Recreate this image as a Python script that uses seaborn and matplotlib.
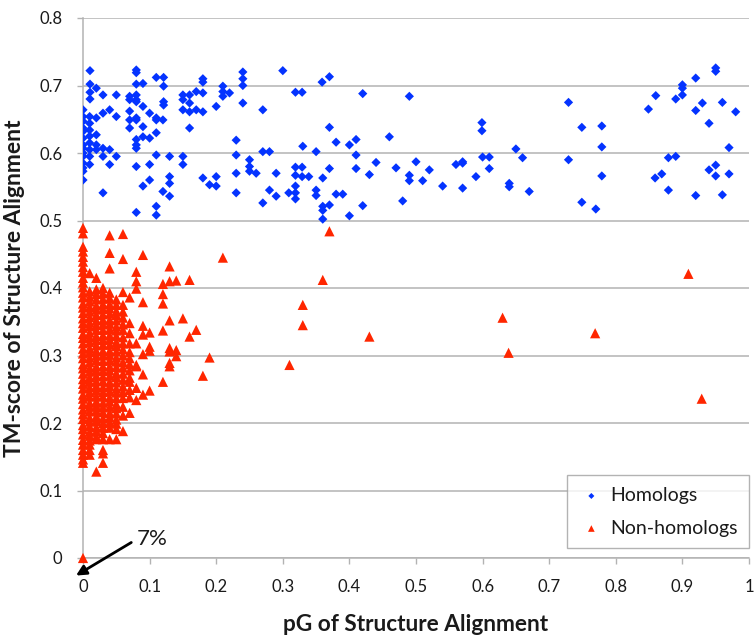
import matplotlib
matplotlib.use("Agg")
import matplotlib.pyplot as plt
import seaborn as sns
import pandas as pd
from matplotlib.ticker import FuncFormatter

# ---------------- data ----------------
homolog_pg = [
    0.0105, 0.080, 0.080, 0.110, 0.121, 0.180, 0.180, 0.240, 0.240, 0.240, 0.0105, 0.020, 0.0105, 0.0105,
    0.030, 0.050, 0.070, 0.080, 0.070, 0.080, 0.080, 0.090, 0.080, 0.121, 0.121, 0.121, 0.150, 0.150,
    0.160, 0.160, 0.170, 0.180, 0.210, 0.210, 0.210, 0.220, 0.240, 0.270, 0.200, 0.150, 0.160, 0.170,
    0.180, 0.160,
    0.0, 0.0, 0.0, 0.0, 0.0, 0.0, 0.0, 0.0, 0.0, 0.0, 0.0, 0.0, 0.0, 0.0,
    0.010, 0.010, 0.010, 0.010, 0.010, 0.010, 0.010, 0.010,
    0.020, 0.020, 0.020, 0.020,
    0.030, 0.030, 0.030, 0.040, 0.040, 0.040, 0.050, 0.050,
    0.070, 0.070, 0.070, 0.080, 0.080, 0.090, 0.090, 0.090, 0.100, 0.100, 0.110, 0.110, 0.120, 0.110,
    0.080, 0.080, 0.080, 0.230, 0.230, 0.230, 0.230, 0.250, 0.250, 0.250, 0.260, 0.270, 0.280,
    0.080, 0.030, 0.080, 0.090, 0.100, 0.100, 0.110, 0.110, 0.110, 0.120, 0.130, 0.130, 0.130, 0.130,
    0.150, 0.150, 0.180, 0.190, 0.200, 0.200, 0.270, 0.280,
    0.300, 0.359, 0.370, 0.319, 0.329, 0.420, 0.490, 0.370, 0.599, 0.599, 0.380, 0.400, 0.410, 0.460,
    0.330, 0.350, 0.410, 0.440, 0.500, 0.560, 0.570, 0.570, 0.600, 0.610, 0.610, 0.319, 0.329, 0.319,
    0.329, 0.339, 0.370, 0.410, 0.470, 0.520, 0.290, 0.360, 0.430, 0.490, 0.490, 0.510, 0.540, 0.570,
    0.590, 0.290, 0.309, 0.319, 0.319, 0.319, 0.350, 0.350, 0.380, 0.390, 0.360, 0.360, 0.370, 0.360,
    0.400, 0.420, 0.480,
    0.950, 0.950, 0.920, 0.900, 0.900, 0.900, 0.860, 0.890, 0.930, 0.960, 0.729, 0.849, 0.920, 0.980,
    0.940, 0.749, 0.779, 0.779, 0.650, 0.660, 0.729, 0.879, 0.890, 0.970, 0.950, 0.940, 0.950, 0.970,
    0.859, 0.869, 0.779, 0.640, 0.640, 0.670, 0.879, 0.920, 0.960, 0.749, 0.770,
]
homolog_tm = [
    0.722, 0.723, 0.719, 0.712, 0.712, 0.710, 0.705, 0.720, 0.710, 0.700, 0.702, 0.696, 0.690, 0.680,
    0.686, 0.686, 0.684, 0.686, 0.679, 0.679, 0.676, 0.703, 0.702, 0.699, 0.676, 0.671, 0.686, 0.679,
    0.686, 0.674, 0.691, 0.689, 0.699, 0.691, 0.684, 0.689, 0.674, 0.664, 0.669, 0.664, 0.661, 0.664,
    0.661, 0.637,
    0.664, 0.654, 0.647, 0.637, 0.632, 0.622, 0.612, 0.607, 0.600, 0.595, 0.585, 0.578, 0.573, 0.560,
    0.654, 0.644, 0.634, 0.625, 0.615, 0.605, 0.595, 0.583,
    0.652, 0.627, 0.612, 0.605,
    0.659, 0.607, 0.595, 0.664, 0.605, 0.583, 0.654, 0.595,
    0.662, 0.649, 0.637, 0.649, 0.652, 0.669, 0.639, 0.624, 0.659, 0.622, 0.652, 0.630, 0.649, 0.649,
    0.620, 0.612, 0.607, 0.619, 0.597, 0.570, 0.541, 0.590, 0.580, 0.573, 0.570, 0.602, 0.602,
    0.580, 0.541, 0.512, 0.551, 0.583, 0.560, 0.597, 0.521, 0.508, 0.543, 0.595, 0.565, 0.555, 0.536,
    0.595, 0.583, 0.563, 0.553, 0.565, 0.551, 0.526, 0.545,
    0.722, 0.705, 0.713, 0.690, 0.690, 0.688, 0.684, 0.638, 0.645, 0.633, 0.616, 0.612, 0.620, 0.624,
    0.610, 0.602, 0.597, 0.586, 0.587, 0.583, 0.587, 0.585, 0.594, 0.594, 0.577, 0.579, 0.579, 0.567,
    0.565, 0.565, 0.577, 0.577, 0.578, 0.575, 0.570, 0.563, 0.568, 0.567, 0.559, 0.559, 0.551, 0.548,
    0.565, 0.536, 0.541, 0.541, 0.551, 0.532, 0.545, 0.537, 0.539, 0.539, 0.521, 0.515, 0.523, 0.502,
    0.507, 0.522, 0.529,
    0.726, 0.721, 0.711, 0.701, 0.696, 0.686, 0.685, 0.680, 0.674, 0.675, 0.675, 0.665, 0.663, 0.661,
    0.644, 0.638, 0.640, 0.609, 0.606, 0.593, 0.590, 0.593, 0.595, 0.608, 0.582, 0.575, 0.566, 0.569,
    0.563, 0.569, 0.566, 0.555, 0.550, 0.543, 0.545, 0.537, 0.538, 0.527, 0.517,
]

# Non-homologs: dense columns at discrete pG values
nonhom_col_pg = [0.00, 0.01, 0.02, 0.03, 0.04, 0.05, 0.06, 0.07, 0.08, 0.09, 0.10, 0.12, 0.13, 0.14,
                 0.15, 0.16, 0.17, 0.18, 0.19, 0.21]
nonhom_col_tm = [
    [0.489, 0.481, 0.461, 0.454, 0.446, 0.439, 0.431, 0.424, 0.415, 0.408, 0.401, 0.393, 0.386, 0.377,
     0.371, 0.363, 0.355, 0.348, 0.341, 0.332, 0.326, 0.318, 0.310, 0.303, 0.296, 0.287, 0.281, 0.273,
     0.265, 0.258, 0.251, 0.242, 0.236, 0.228, 0.220, 0.213, 0.206, 0.197, 0.191, 0.183, 0.175, 0.168,
     0.160, 0.153, 0.146, 0.141],
    [0.422, 0.395, 0.387, 0.380, 0.372, 0.365, 0.357, 0.349, 0.343, 0.334, 0.327, 0.320, 0.311, 0.305,
     0.297, 0.290, 0.282, 0.276, 0.268, 0.261, 0.253, 0.246, 0.239, 0.230, 0.224, 0.217, 0.208, 0.202,
     0.195, 0.187, 0.181, 0.174, 0.168, 0.160, 0.153],
    [0.415, 0.398, 0.391, 0.383, 0.374, 0.368, 0.360, 0.352, 0.345, 0.338, 0.329, 0.323, 0.315, 0.307,
     0.300, 0.293, 0.284, 0.278, 0.270, 0.262, 0.255, 0.248, 0.240, 0.232, 0.225, 0.218, 0.210, 0.203,
     0.194, 0.188, 0.180, 0.176, 0.128],
    [0.400, 0.392, 0.384, 0.376, 0.369, 0.361, 0.353, 0.346, 0.338, 0.330, 0.323, 0.316, 0.307, 0.300,
     0.292, 0.284, 0.277, 0.269, 0.262, 0.253, 0.246, 0.239, 0.230, 0.223, 0.216, 0.207, 0.200, 0.193,
     0.185, 0.176, 0.160, 0.155, 0.141],
    [0.478, 0.452, 0.429, 0.393, 0.385, 0.376, 0.370, 0.362, 0.353, 0.347, 0.339, 0.330, 0.324, 0.316,
     0.307, 0.301, 0.293, 0.284, 0.278, 0.270, 0.261, 0.255, 0.247, 0.238, 0.232, 0.224, 0.215, 0.209,
     0.201, 0.193, 0.176],
    [0.383, 0.375, 0.366, 0.360, 0.352, 0.343, 0.337, 0.329, 0.320, 0.314, 0.306, 0.297, 0.291, 0.283,
     0.274, 0.268, 0.260, 0.251, 0.245, 0.237, 0.228, 0.222, 0.214, 0.205, 0.199, 0.191, 0.176],
    [0.480, 0.443, 0.394, 0.375, 0.365, 0.356, 0.346, 0.338, 0.327, 0.318, 0.309, 0.300, 0.290, 0.282,
     0.273, 0.264, 0.254, 0.246, 0.237, 0.224, 0.211, 0.188],
    [0.386, 0.348, 0.333, 0.318, 0.305, 0.296, 0.287, 0.278, 0.267, 0.261, 0.249, 0.238, 0.215],
    [0.424, 0.410, 0.399, 0.318, 0.286, 0.284, 0.252, 0.234],
    [0.449, 0.379, 0.344, 0.331, 0.302, 0.272, 0.242],
    [0.334, 0.313, 0.307, 0.248],
    [0.406, 0.391, 0.377, 0.337, 0.261],
    [0.432, 0.410, 0.352, 0.311, 0.306, 0.289, 0.284],
    [0.411, 0.308, 0.299],
    [0.355],
    [0.412, 0.328],
    [0.338],
    [0.270],
    [0.297],
    [0.445],
]
nonhom_far_pg = [0.310, 0.330, 0.330, 0.360, 0.370, 0.430, 0.630, 0.639, 0.769, 0.909, 0.929, 0.0]
nonhom_far_tm = [0.286, 0.375, 0.345, 0.412, 0.484, 0.328, 0.356, 0.304, 0.333, 0.421, 0.236, 0.0]

x_ticks = [0, 0.1, 0.2, 0.3, 0.4, 0.5, 0.6, 0.7, 0.8, 0.9, 1.0]
y_ticks = [0, 0.1, 0.2, 0.3, 0.4, 0.5, 0.6, 0.7, 0.8]

# ---------------- build frames ----------------
hom_df = pd.DataFrame({"pG": homolog_pg, "TM": homolog_tm})
nh_pg, nh_tm = [], []
for xv, col in zip(nonhom_col_pg, nonhom_col_tm):
    for yv in col:
        nh_pg.append(xv)
        nh_tm.append(yv)
nh_pg += nonhom_far_pg
nh_tm += nonhom_far_tm
nh_df = pd.DataFrame({"pG": nh_pg, "TM": nh_tm})

# ---------------- style ----------------
sns.set_style("white")
plt.rcParams["font.family"] = ["Lato", "DejaVu Sans"]
BLUE = "#0433ff"
RED = "#ff2600"
GRID = "#b3b3b3"
TXT = "#1a1a1a"

fig = plt.figure(figsize=(7.54, 6.37), dpi=100)
ax = fig.add_axes([83 / 754, (637 - 558) / 637, (749 - 83) / 754, (558 - 18) / 637])

sns.scatterplot(data=hom_df, x="pG", y="TM", ax=ax, marker="D", s=22, color=BLUE,
                linewidth=0, edgecolor="none", label="Homologs", zorder=3)
sns.scatterplot(data=nh_df, x="pG", y="TM", ax=ax, marker="^", s=54, color=RED,
                linewidth=0, edgecolor="none", label="Non-homologs", zorder=4, clip_on=False)

ax.set_xlim(0, 1)
ax.set_ylim(0, 0.8)
ax.set_xticks(x_ticks)
ax.set_yticks(y_ticks)
fmt = FuncFormatter(lambda v, p: f"{v:g}")
ax.xaxis.set_major_formatter(fmt)
ax.yaxis.set_major_formatter(fmt)

ax.grid(axis="y", color=GRID, linewidth=1.1, zorder=0)
ax.grid(axis="x", visible=False)
for side in ["top", "right"]:
    ax.spines[side].set_visible(False)
for side in ["left", "bottom"]:
    ax.spines[side].set_color(GRID)
    ax.spines[side].set_linewidth(1.1)
    ax.spines[side].set_zorder(1)
ax.tick_params(axis="both", which="major", direction="out", length=4, width=1.0,
               color=GRID, labelsize=12, labelcolor=TXT)
ax.tick_params(axis="x", pad=11)
ax.tick_params(axis="y", pad=11)
ax.tick_params(left=True, bottom=True)

ax.set_xlabel("pG of Structure Alignment", fontsize=16.3, fontweight="bold", color=TXT, labelpad=14)
ax.set_ylabel("TM-score of Structure Alignment", fontsize=16.5, fontweight="bold", color=TXT, labelpad=10)

leg = ax.legend(loc="lower right", bbox_to_anchor=(1.0, 0.018), borderaxespad=0,
                frameon=True, fancybox=False, edgecolor="#a0a0a0", fontsize=14,
                markerscale=0.65, handletextpad=0.3, labelspacing=0.8, borderpad=0.6,
                handlelength=1.3)
leg.get_frame().set_linewidth(1.0)
for t in leg.get_texts():
    t.set_color(TXT)

ax.annotate("7%", xy=(-0.0105, -0.026), xytext=(0.081, 0.028), textcoords="data",
            fontsize=16, ha="left", va="center", color=TXT, annotation_clip=False,
            arrowprops=dict(arrowstyle="-|>", color="black", lw=2.0, mutation_scale=15,
                            shrinkA=2, shrinkB=0, relpos=(0, 0.5)))

fig.savefig("out.png", dpi=100)
